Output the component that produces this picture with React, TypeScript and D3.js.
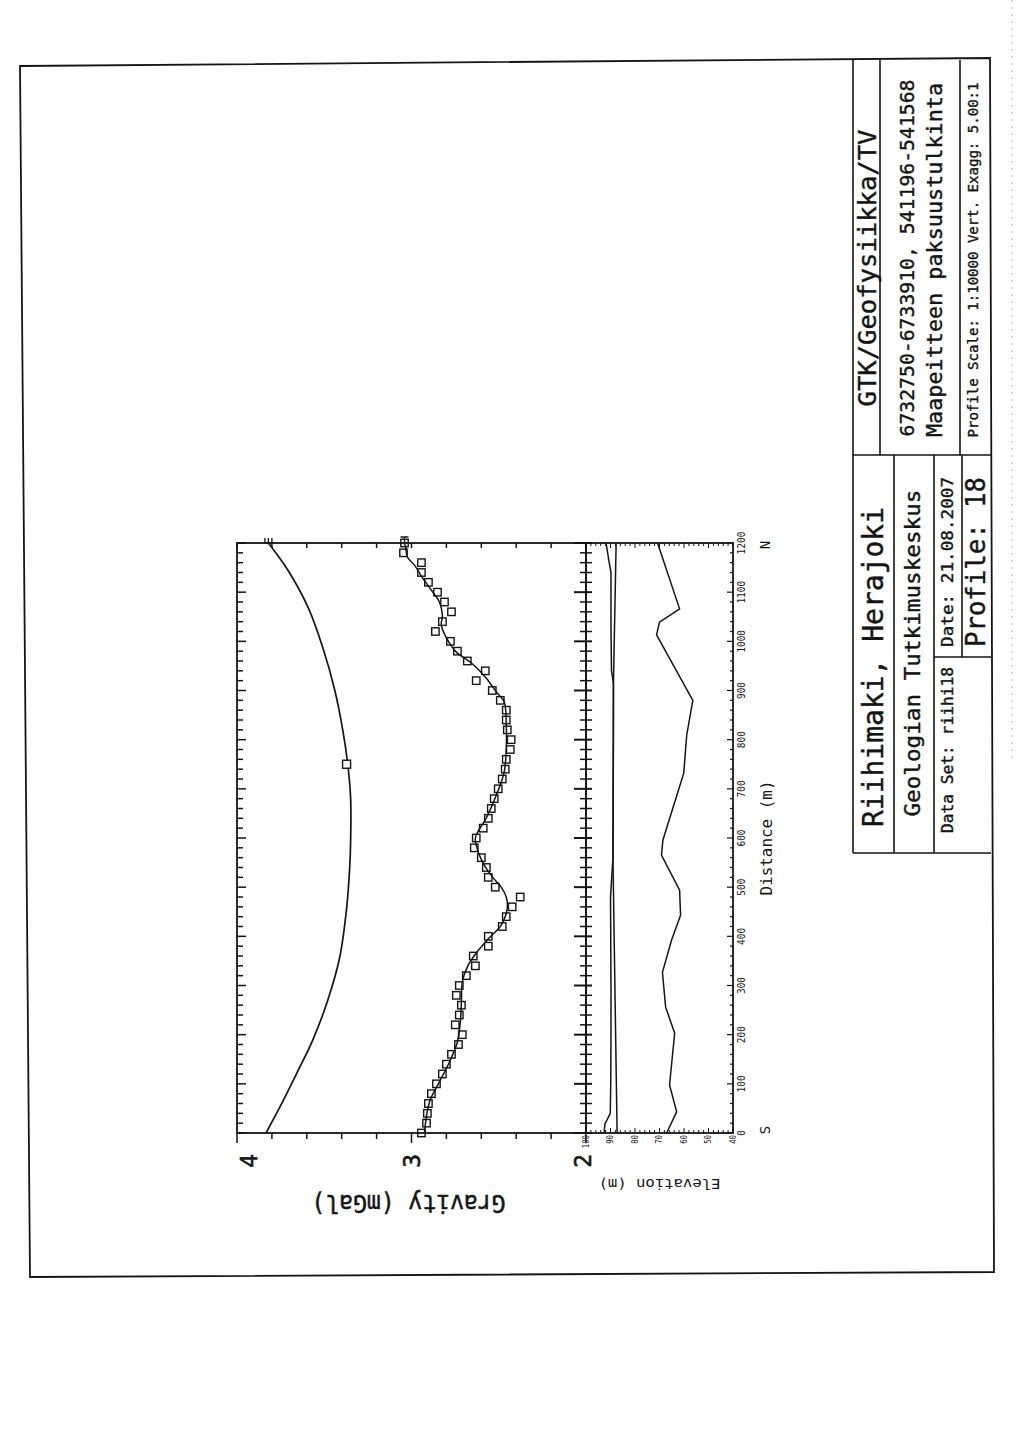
import React from 'react';
import * as d3 from 'd3';

const W = 1024;
const H = 1448;
const FONT = 'DejaVu Sans Mono';

// Gravity stations along the profile (m, from S to N)
const stationDist = [
  0, 20, 40, 60, 80, 100, 120, 140, 160, 180, 200, 220, 240, 260, 280, 300, 320, 340, 360, 380,
  400, 420, 440, 460, 480, 500, 520, 540, 560, 580, 600, 620, 640, 660, 680, 700, 720, 740, 760, 780,
  800, 820, 840, 860, 880, 900, 920, 940, 960, 980, 1000, 1020, 1040, 1060, 1080, 1100, 1120, 1140, 1160, 1180, 1200,
];

// Observed gravity (mGal)
const observedGravity = [
  2.943, 2.914, 2.909, 2.903, 2.886, 2.857, 2.823, 2.8, 2.771, 2.731,
  2.709, 2.749, 2.726, 2.714, 2.743, 2.726, 2.686, 2.634, 2.646, 2.56,
  2.56, 2.48, 2.457, 2.423, 2.377, 2.52, 2.56, 2.571, 2.6, 2.64,
  2.629, 2.589, 2.56, 2.543, 2.526, 2.503, 2.48, 2.463, 2.457, 2.434,
  2.429, 2.451, 2.457, 2.457, 2.491, 2.537, 2.629, 2.577, 2.68, 2.737,
  2.777, 2.863, 2.823, 2.771, 2.811, 2.851, 2.903, 2.943, 2.943, 3.046,
  3.04,
];

// Computed (model) gravity: [distance m, mGal]
const modelGravity: [number, number][] = [
  [0, 2.926], [63, 2.897], [104, 2.84], [144, 2.783], [185, 2.737], [226, 2.72], [266, 2.714],
  [307, 2.709], [338, 2.68], [366, 2.629], [397, 2.554], [423, 2.486], [458, 2.451], [480, 2.457],
  [500, 2.486], [521, 2.537], [545, 2.583], [571, 2.617], [600, 2.634], [641, 2.571], [687, 2.514],
  [734, 2.469], [783, 2.457], [830, 2.457], [877, 2.469], [897, 2.514], [925, 2.571], [956, 2.657],
  [978, 2.743], [1007, 2.8], [1033, 2.829], [1053, 2.823], [1080, 2.84], [1104, 2.886],
  [1129, 2.937], [1155, 2.983], [1171, 3.023], [1192, 3.034], [1200, 3.04],
];

// Regional gravity field: [distance m, mGal]
const regionalGravity: [number, number][] = [
  [0, 3.834], [53, 3.754], [122, 3.657], [189, 3.566], [270, 3.48], [358, 3.411], [460, 3.371],
  [541, 3.354], [590, 3.349], [683, 3.349], [752, 3.366], [820, 3.394], [901, 3.44], [988, 3.509],
  [1070, 3.594], [1145, 3.709], [1200, 3.82],
];
const regionalMarker: [number, number] = [750, 3.372];

// Elevation section (m a.s.l.): ground surface, water table, bedrock surface
const groundSurface: [number, number][] = [
  [0, 92.6], [18, 92.3], [40, 90.1], [100, 89.9], [200, 89.8], [300, 89.8], [400, 89.9], [480, 90.0],
  [560, 89.0], [700, 88.9], [800, 88.8], [915, 88.8], [940, 89.6], [1030, 89.8], [1140, 89.8],
  [1165, 90.7], [1200, 91.8],
];
const waterTable: [number, number][] = [
  [0, 87.3], [560, 89.0], [915, 88.8], [1200, 87.7],
];
const bedrockSurface: [number, number][] = [
  [0, 67.1], [43, 63.0], [98, 65.9], [203, 63.8], [256, 67.5], [327, 68.8], [392, 65.1],
  [443, 61.4], [494, 61.8], [565, 69.2], [596, 68.6], [732, 60.1], [809, 58.9], [880, 56.4],
  [1013, 71.2], [1039, 70.0], [1066, 61.8], [1200, 70.8],
];

const gravityLabels = [4, 3, 2];
const elevationLabels = [100, 90, 80, 70, 60, 50, 40];
const distanceLabels = [0, 100, 200, 300, 400, 500, 600, 700, 800, 900, 1000, 1100, 1200];

// Landscape coordinates (u along profile, v across); the sheet is turned a quarter turn.
const xD = d3.scaleLinear().domain([0, 1200]).range([315, 905]);
const yG = d3.scaleLinear().domain([2, 4]).range([586, 237]);
const yE = d3.scaleLinear().domain([40, 100]).range([733, 586]);

const INK = '#151515';

function Plot() {
  const gLine = d3
    .line<[number, number]>()
    .x((d) => xD(d[0]))
    .y((d) => yG(d[1]))
    .curve(d3.curveCatmullRom.alpha(0.5));
  const eLine = d3
    .line<[number, number]>()
    .x((d) => xD(d[0]))
    .y((d) => yE(d[1]));

  const distTicks = xD.ticks(60);
  const gravTicks = yG.ticks(10);
  const elevTicks = yE.ticks(30);
  const [u0, u1] = xD.range();
  const vTop = yG.range()[1];
  const vMid = yG.range()[0];
  const vBot = yE.range()[0];
  const isMajor = (d: number) => Math.abs(d % 100) < 1e-6;

  // curve end tags at the north end
  const regEnd = regionalGravity[regionalGravity.length - 1];
  const modEnd = modelGravity[modelGravity.length - 1];
  const rv = yG(regEnd[1]);
  const mv = yG(modEnd[1]);

  return (
    <g transform={`translate(0,${H}) rotate(-90)`} stroke={INK} fill="none">
      {/* panel frames */}
      <rect x={u0} y={vTop} width={u1 - u0} height={vMid - vTop} strokeWidth={1.8} />
      <rect x={u0} y={vMid} width={u1 - u0} height={vBot - vMid} strokeWidth={1.8} />

      {/* gravity axis ticks: outside on the left, inside on the right */}
      {gravTicks.map((g) => {
        const major = Math.abs(g - Math.round(g)) < 1e-6;
        return (
          <g key={'g' + g}>
            <line x1={u0} x2={u0 - (major ? 10 : 6)} y1={yG(g)} y2={yG(g)} strokeWidth={1.5} />
            <line x1={u1} x2={u1 - 5} y1={yG(g)} y2={yG(g)} strokeWidth={1.5} />
          </g>
        );
      })}

      {/* distance ticks on panel edges */}
      {distTicks.map((d) => (
        <g key={'d' + d}>
          <line x1={xD(d)} x2={xD(d)} y1={vTop} y2={vTop + (isMajor(d) ? 9 : 6)} strokeWidth={1.5} />
          <line
            x1={xD(d)}
            x2={xD(d)}
            y1={vMid - (isMajor(d) ? 12 : 6)}
            y2={vMid + 6}
            strokeWidth={isMajor(d) ? 2 : 1.5}
          />
          <line x1={xD(d)} x2={xD(d)} y1={vBot} y2={vBot - (isMajor(d) ? 6 : 3)} strokeWidth={1.2} />
        </g>
      ))}

      {/* elevation ticks */}
      {elevTicks.map((e) => {
        const major = e % 10 === 0;
        return (
          <g key={'e' + e}>
            <line x1={u0} x2={u0 + (major ? 5 : 3)} y1={yE(e)} y2={yE(e)} strokeWidth={1} />
            <line x1={u1} x2={u1 - (major ? 5 : 3)} y1={yE(e)} y2={yE(e)} strokeWidth={1} />
          </g>
        );
      })}

      {/* regional field */}
      <path d={gLine(regionalGravity) ?? ''} strokeWidth={1.7} />
      <rect
        x={xD(regionalMarker[0]) - 4}
        y={yG(regionalMarker[1]) - 4}
        width={8}
        height={8}
        strokeWidth={1.4}
        fill="#fff"
      />
      <path
        d={`M${u1},${rv - 3.5}H${u1 + 5}M${u1},${rv - 3.5}V${rv + 3.5}M${u1},${rv}H${u1 + 5}M${u1},${rv + 3.5}H${u1 + 5}`}
        strokeWidth={1.3}
      />

      {/* model curve and observations */}
      <path d={gLine(modelGravity) ?? ''} strokeWidth={1.5} />
      <path d={`M${u1},${mv}H${u1 + 6}M${u1 + 6},${mv - 4}V${mv + 4}`} strokeWidth={1.3} />
      {stationDist.map((d, i) => (
        <rect
          key={'s' + d}
          x={xD(d) - 3.7}
          y={yG(observedGravity[i]) - 3.7}
          width={7.4}
          height={7.4}
          strokeWidth={1.4}
          fill="none"
        />
      ))}

      {/* elevation section */}
      <path d={eLine(groundSurface) ?? ''} strokeWidth={1.5} />
      <path d={eLine(waterTable) ?? ''} strokeWidth={1.5} />
      <path d={eLine(bedrockSurface) ?? ''} strokeWidth={1.5} />

      {/* labels */}
      <g stroke="none" fill={INK} fontFamily={FONT}>
        {gravityLabels.map((g) => {
          const v = Math.min(Math.max(yG(g), vTop + 12), vMid - 3);
          return (
            <text
              key={'gl' + g}
              x={u0 - 21}
              y={v}
              fontSize={23}
              textAnchor="end"
              dominantBaseline="central"
              stroke={INK}
              strokeWidth={0.6}
            >
              {g}
            </text>
          );
        })}
        {elevationLabels.map((e) => (
          <text
            key={'el' + e}
            x={u0 - 2}
            y={yE(e)}
            fontSize={8}
            textAnchor="end"
            dominantBaseline="central"
            textLength={String(e).length * 4.4}
            lengthAdjust="spacingAndGlyphs"
          >
            {e}
          </text>
        ))}
        {distanceLabels.map((d) => (
          <text
            key={'dl' + d}
            x={xD(d)}
            y={vBot + 12}
            fontSize={11}
            textAnchor="middle"
            textLength={String(d).length * 5.7}
            lengthAdjust="spacingAndGlyphs"
          >
            {d}
          </text>
        ))}
        <text x={u0 + 3} y={vBot + 37} fontSize={14} textAnchor="middle">
          S
        </text>
        <text x={u1 - 2} y={vBot + 37} fontSize={14} textAnchor="middle">
          N
        </text>
        <text
          x={xD(600)}
          y={vBot + 39}
          fontSize={16}
          textAnchor="middle"
          textLength={115}
          lengthAdjust="spacingAndGlyphs"
        >
          Distance (m)
        </text>
        <text
          transform={`translate(245,${(yG(4) + yG(2)) / 2 - 3}) rotate(-90)`}
          fontSize={24}
          textAnchor="middle"
          dominantBaseline="central"
          textLength={194}
          lengthAdjust="spacingAndGlyphs"
          stroke={INK}
          strokeWidth={0.5}
        >
          Gravity (mGal)
        </text>
        <text
          transform={`translate(264,${(yE(40) + yE(100)) / 2}) rotate(-90)`}
          fontSize={14}
          textAnchor="middle"
          dominantBaseline="central"
          textLength={122}
          lengthAdjust="spacingAndGlyphs"
        >
          Elevation (m)
        </text>
      </g>
    </g>
  );
}

type Cell = { text: string; x: number; y: number; size: number; len: number };

const titleTexts: Cell[] = [
  { text: 'GTK/Geofysiikka/TV', x: 876, y: 268, size: 25, len: 277 },
  { text: '6732750-6733910, 541196-541568', x: 914, y: 258, size: 20, len: 357 },
  { text: 'Maapeitteen paksuustulkinta', x: 942, y: 260, size: 22, len: 354 },
  { text: 'Profile Scale: 1:10000 Vert. Exagg: 5.00:1', x: 978, y: 260, size: 14, len: 355 },
  { text: 'Riihimaki, Herajoki', x: 883, y: 667, size: 28, len: 320 },
  { text: 'Geologian Tutkimuskeskus', x: 920, y: 653, size: 22, len: 327 },
  { text: 'Date: 21.08.2007', x: 953, y: 562, size: 16, len: 170 },
  { text: 'Data Set: riihi18', x: 953, y: 750, size: 15, len: 166 },
  { text: 'Profile: 18', x: 985, y: 562, size: 27, len: 170 },
];

function TitleBlock() {
  const L = 853;
  const R = 991;
  const T = 60;
  const B = 853;
  return (
    <g stroke={INK} fill="none" strokeWidth={1.6}>
      <line x1={L} x2={L} y1={T} y2={B} />
      <line x1={L} x2={R} y1={B} y2={B} />
      <line x1={880} x2={880} y1={T} y2={455} />
      <line x1={960} x2={960} y1={T} y2={455} />
      <line x1={L} x2={R} y1={455} y2={455} />
      <line x1={894} x2={894} y1={455} y2={B} />
      <line x1={934} x2={934} y1={455} y2={B} />
      <line x1={962} x2={962} y1={455} y2={657} />
      <line x1={934} x2={R} y1={657} y2={657} />
      <g stroke={INK} strokeWidth={0.4} fill={INK} fontFamily={FONT}>
        {titleTexts.map((t) => (
          <text
            key={t.text}
            transform={`translate(${t.x},${t.y}) rotate(-90)`}
            fontSize={t.size}
            textAnchor="middle"
            textLength={t.len}
            lengthAdjust="spacingAndGlyphs"
          >
            {t.text}
          </text>
        ))}
      </g>
    </g>
  );
}

// Sheet border corners (slightly skewed on the sheet)
const borderCorners: [number, number][] = [
  [20, 66], [990, 58], [994, 1272], [30, 1277],
];

export default function App() {
  return (
    <svg
      width={W}
      height={H}
      viewBox={`0 0 ${W} ${H}`}
      style={{ position: 'absolute', left: 0, top: 0, display: 'block', background: '#fff' }}
    >
      <rect width={W} height={H} fill="#fff" />
      <line x1={1012} x2={1012} y1={0} y2={760} stroke="#bbb" strokeWidth={1} strokeDasharray="2 5" />
      <polygon
        points={borderCorners.map((p) => p.join(',')).join(' ')}
        fill="none"
        stroke={INK}
        strokeWidth={1.8}
      />
      <Plot />
      <TitleBlock />
    </svg>
  );
}
